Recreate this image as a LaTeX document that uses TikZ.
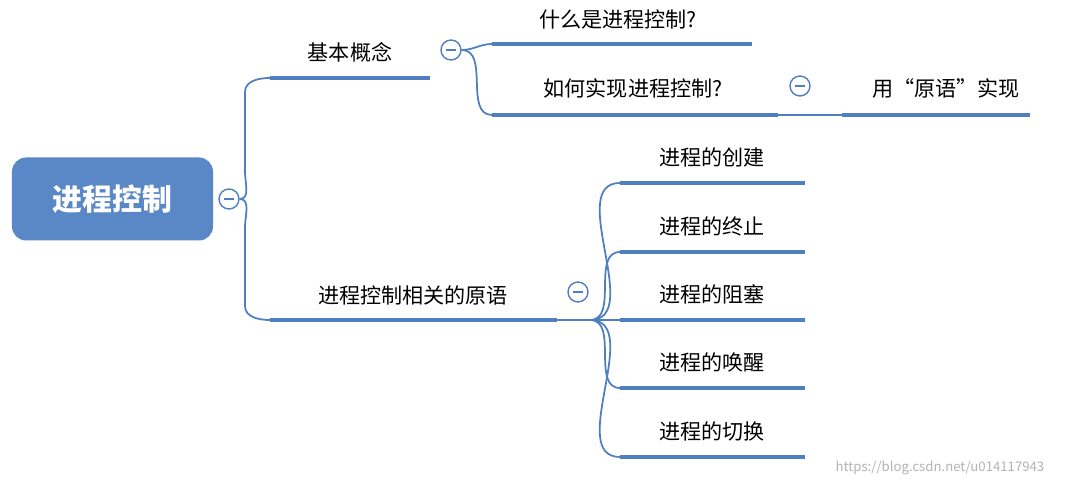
\documentclass[tikz,border=0pt]{standalone}
\usepackage{fontspec}
\setmainfont{Noto Sans CJK SC}
\usetikzlibrary{positioning}
\definecolor{mapblue}{HTML}{5A87C6}
\definecolor{linkblue}{HTML}{4F7FC0}
\tikzset{topic/.style={font=\fontsize{12}{14}\selectfont,text=black,inner sep=1pt}}
\tikzset{bar/.style={draw=linkblue,line width=2.4pt}}
\tikzset{link/.style={draw=linkblue,line width=1pt}}
\tikzset{fold/.style={draw=linkblue,fill=white,circle,line width=0.8pt,minimum size=0.4cm,inner sep=0pt,
  path picture={\draw[linkblue,line width=0.8pt] ([xshift=-0.1cm]path picture bounding box.center) -- ([xshift=0.1cm]path picture bounding box.center);}}}
\begin{document}
\begin{tikzpicture}
		\useasboundingbox (0,0) rectangle (21.3,9.74);

		% root
		\node[draw=none,fill=mapblue,rounded corners=8pt,minimum width=4.02cm,minimum height=1.66cm,
		      text=white,font=\fontsize{17}{20}\selectfont\bfseries](root) at (2.25,5.76){进程控制};
		\node[fold](f0) at (4.58,5.76){};

		% first level
		\node[topic](basic) at (7.0,8.7){基本概念};
		\coordinate(basicL) at (5.4,8.18);
		\coordinate(basicR) at (8.6,8.18);
		\node[fold](f1) at (9.02,8.74){};

		\node[topic](prim) at (8.26,3.84){进程控制相关的原语};
		\coordinate(primL) at (5.4,3.34);
		\coordinate(primR) at (11.14,3.34);
		\node[fold](f2) at (11.56,3.9){};

		\draw[link] (f0.east) to[out=0,in=270] (4.9,6.3) -- (4.9,7.9) to[out=90,in=180] (basicL);
		\draw[link] (f0.east) to[out=0,in=90] (4.9,5.2) -- (4.9,3.62) to[out=270,in=180] (primL);
		\draw[bar] (basicL) -- (basicR);
		\draw[bar] (primL) -- (primR);

		% basic concept children
		\node[topic](what) at (12.36,9.34){什么是进程控制?};
		\coordinate(whatL) at (9.84,8.86);
		\coordinate(whatR) at (15.04,8.86);
		\node[topic](how) at (12.66,7.98){如何实现进程控制?};
		\coordinate(howL) at (9.84,7.44);
		\coordinate(howR) at (15.56,7.44);
		\node[fold](f3) at (16.0,8.02){};
		\node[topic](impl) at (18.92,7.98){用“原语”实现};
		\coordinate(implL) at (16.84,7.44);
		\coordinate(implR) at (20.6,7.44);

		\draw[link] (f1.east) to[out=0,in=180] (whatL);
		\draw[link] (f1.east) to[out=0,in=180] (howL);
		\draw[bar] (whatL) -- (whatR);
		\draw[bar] (howL) -- (howR);
		\draw[link] (howR) -- (implL);
		\draw[bar] (implL) -- (implR);

		% primitive children
		\foreach \name/\txt/\y in {c1/进程的创建/6.08, c2/进程的终止/4.7, c3/进程的阻塞/3.34, c4/进程的唤醒/1.98, c5/进程的切换/0.6}{
			\node[topic](\name) at (14.24,\y+0.52){\txt};
			\coordinate(\name L) at (12.4,\y);
			\coordinate(\name R) at (16.1,\y);
			\draw[link] (11.8,3.34) to[out=0,in=180] (\name L);
			\draw[bar] (\name L) -- (\name R);
		}
		\draw[link] (primR) -- (11.8,3.34);

		\node[font=\fontsize{7.5}{9}\selectfont,text=black!30](mark) at (18.8,0.38){https://blog.csdn.net/u014117943};
	\end{tikzpicture}
\end{document}
